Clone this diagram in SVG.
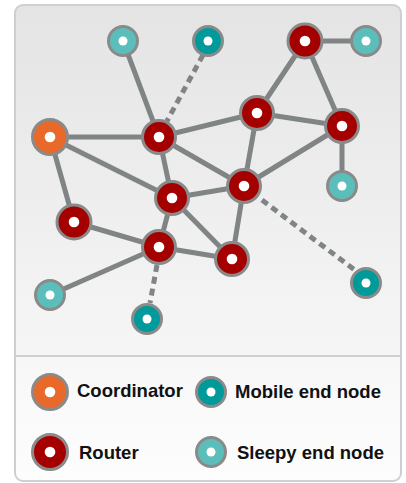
<svg xmlns="http://www.w3.org/2000/svg" width="406" height="483" viewBox="0 0 406 483">
<defs>
<linearGradient id="bg" x1="0" y1="0" x2="0" y2="1">
<stop offset="0" stop-color="#e4e4e4"/>
<stop offset="1" stop-color="#f6f6f6"/>
</linearGradient>
<linearGradient id="bg2" x1="0" y1="0" x2="0" y2="1">
<stop offset="0" stop-color="#f7f7f7"/>
<stop offset="1" stop-color="#fdfdfd"/>
</linearGradient>
</defs>
<style>
.e{stroke:#808484;stroke-width:5;fill:none}
.d{stroke:#808484;stroke-width:5;fill:none;stroke-dasharray:7 5}
.n{stroke:#8a8a8a;stroke-width:3}
.r{fill:#a50000}
.c{fill:#e8692a}
.m{fill:#009a9a}
.s{fill:#5bbebb}
.dot{fill:#ffffff;stroke:none}
.t{font-family:"Liberation Sans",Arial,sans-serif;font-weight:bold;font-size:18.5px;fill:#111}
</style>
<rect x="0" y="0" width="406" height="483" fill="#ffffff"/>
<path d="M15,356 V14 Q15,5 24,5 H392 Q401,5 401,14 V356 Z" fill="url(#bg)"/>
<path d="M15,356 V473 Q15,481 23,481 H393 Q401,481 401,473 V356 Z" fill="url(#bg2)"/>
<rect x="15" y="5" width="386" height="476" rx="8" fill="none" stroke="#cfcfcf" stroke-width="2"/>
<line x1="15" y1="356" x2="401" y2="356" stroke="#cfcfcf" stroke-width="2"/>
<g id="connectors">
<line class="e" x1="123" y1="41" x2="159" y2="137"/>
<line class="d" x1="203" y1="55" x2="167" y2="121"/>
<line class="e" x1="305" y1="41" x2="366" y2="41"/>
<line class="e" x1="305" y1="41" x2="257" y2="113"/>
<line class="e" x1="305" y1="41" x2="342" y2="126"/>
<line class="e" x1="50" y1="137" x2="159" y2="137" stroke-width="6"/>
<line class="e" x1="50" y1="137" x2="172" y2="198"/>
<line class="e" x1="50" y1="137" x2="74" y2="222"/>
<line class="e" x1="159" y1="137" x2="257" y2="113"/>
<line class="e" x1="159" y1="137" x2="172" y2="198"/>
<line class="e" x1="159" y1="137" x2="244" y2="186"/>
<line class="e" x1="257" y1="113" x2="342" y2="126"/>
<line class="e" x1="257" y1="113" x2="244" y2="186"/>
<line class="e" x1="342" y1="126" x2="244" y2="186"/>
<line class="e" x1="342" y1="126" x2="342" y2="186"/>
<line class="e" x1="172" y1="198" x2="244" y2="186"/>
<line class="e" x1="172" y1="198" x2="159" y2="247"/>
<line class="e" x1="172" y1="198" x2="232" y2="259"/>
<line class="e" x1="244" y1="186" x2="232" y2="259"/>
<line class="d" x1="262" y1="200" x2="356" y2="271"/>
<line class="e" x1="74" y1="222" x2="159" y2="247"/>
<line class="e" x1="159" y1="247" x2="232" y2="259"/>
<line class="e" x1="159" y1="247" x2="50" y2="295"/>
<line class="d" x1="157" y1="265" x2="150" y2="303"/>
</g>
<g id="sleepy1"><circle class="n s" cx="123" cy="41" r="14.5"/><circle class="dot" cx="123" cy="41" r="4.5"/></g>
<g id="mobile1"><circle class="n m" cx="208" cy="41" r="14.5"/><circle class="dot" cx="208" cy="41" r="4.5"/></g>
<g id="routerTR"><circle class="n r" cx="305" cy="41" r="17"/><circle class="dot" cx="305" cy="41" r="5.3"/></g>
<g id="sleepy2"><circle class="n s" cx="366" cy="41" r="14.5"/><circle class="dot" cx="366" cy="41" r="4.5"/></g>
<g id="coordinator"><circle class="n c" cx="50" cy="137" r="17.5"/><circle class="dot" cx="50" cy="137" r="5.3"/></g>
<g id="routerA"><circle class="n r" cx="159" cy="137" r="16.5"/><circle class="dot" cx="159" cy="137" r="5.3"/></g>
<g id="routerB"><circle class="n r" cx="257" cy="113" r="16.5"/><circle class="dot" cx="257" cy="113" r="5.3"/></g>
<g id="routerC"><circle class="n r" cx="342" cy="126" r="16.5"/><circle class="dot" cx="342" cy="126" r="5.3"/></g>
<g id="sleepy3"><circle class="n s" cx="342" cy="186" r="14.5"/><circle class="dot" cx="342" cy="186" r="4.5"/></g>
<g id="routerD"><circle class="n r" cx="244" cy="186" r="16.5"/><circle class="dot" cx="244" cy="186" r="5.3"/></g>
<g id="routerE"><circle class="n r" cx="172" cy="198" r="16.5"/><circle class="dot" cx="172" cy="198" r="5.3"/></g>
<g id="routerF"><circle class="n r" cx="74" cy="222" r="17"/><circle class="dot" cx="74" cy="222" r="5.3"/></g>
<g id="routerG"><circle class="n r" cx="159" cy="247" r="16.5"/><circle class="dot" cx="159" cy="247" r="5.3"/></g>
<g id="routerH"><circle class="n r" cx="232" cy="259" r="16.5"/><circle class="dot" cx="232" cy="259" r="5.3"/></g>
<g id="mobile2"><circle class="n m" cx="366" cy="283" r="14.5"/><circle class="dot" cx="366" cy="283" r="4.5"/></g>
<g id="sleepy4"><circle class="n s" cx="50" cy="295" r="14.5"/><circle class="dot" cx="50" cy="295" r="4.5"/></g>
<g id="mobile3"><circle class="n m" cx="147" cy="319" r="14.5"/><circle class="dot" cx="147" cy="319" r="4.5"/></g>
<g id="legend-coordinator"><circle class="n c" cx="50" cy="392" r="17.5"/><circle class="dot" cx="50" cy="392" r="5.3"/><text class="t" x="77" y="397">Coordinator</text></g>
<g id="legend-mobile"><circle class="n m" cx="211" cy="392" r="14.5"/><circle class="dot" cx="211" cy="392" r="4.5"/><text class="t" x="235" y="398">Mobile end node</text></g>
<g id="legend-router"><circle class="n r" cx="50" cy="452" r="17.5"/><circle class="dot" cx="50" cy="452" r="5.3"/><text class="t" x="79" y="459">Router</text></g>
<g id="legend-sleepy"><circle class="n s" cx="211" cy="452" r="14.5"/><circle class="dot" cx="211" cy="452" r="4.5"/><text class="t" x="237" y="459">Sleepy end node</text></g>
</svg>
